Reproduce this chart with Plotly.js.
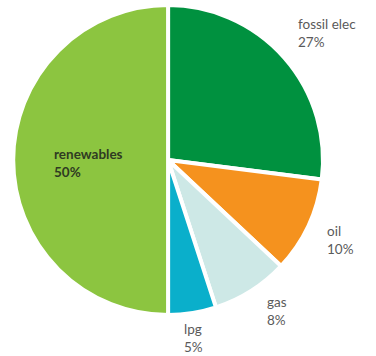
<!DOCTYPE html>
<html>
<head>
<meta charset="utf-8">
<script src="https://cdn.plot.ly/plotly-3.0.1.min.js"></script>
<style>html,body{margin:0;padding:0;background:#fff;}#chart{width:376px;height:356px;}</style>
</head>
<body>
<div id="chart"></div>
<script>
const categories = ["fossil elec", "oil", "gas", "lpg", "renewables"];
const shares = [27, 10, 8, 5, 50];
const colors = ["#00913F", "#F5921E", "#CDE8E6", "#0AAFCB", "#8CC540"];

// label anchor positions (paper coords) for each category
const labelX = [0.787, 0.864, 0.705, 0.484, 0.138];
const labelY = [0.906, 0.326, 0.126, 0.050, 0.5435];

const annotations = categories.map((c, i) => ({
  xref: "paper", yref: "paper",
  x: labelX[i], y: labelY[i],
  xanchor: "left", yanchor: "middle", align: "left",
  showarrow: false,
  text: c === "renewables" ? "<b>" + c + "<br>" + shares[i] + "%</b>" : c + "<br>" + shares[i] + "%",
  font: {family: "Lato, 'Open Sans', sans-serif", size: 13.5,
         color: c === "renewables" ? "#2f3b22" : "#5a5a5a"}
}));

const trace = {
  type: "pie",
  labels: categories,
  values: shares,
  sort: false,
  direction: "clockwise",
  rotation: 0,
  textinfo: "none",
  hoverinfo: "label+percent",
  marker: {colors: colors, line: {color: "#ffffff", width: 4}},
  domain: {x: [0.035, 0.859], y: [0.115, 0.986]}
};

const layout = {
  width: 376, height: 356,
  margin: {l: 0, r: 0, t: 0, b: 0},
  showlegend: false,
  paper_bgcolor: "#ffffff",
  annotations: annotations
};

Plotly.newPlot("chart", [trace], layout, {displayModeBar: false, staticPlot: true});
</script>
</body>
</html>
